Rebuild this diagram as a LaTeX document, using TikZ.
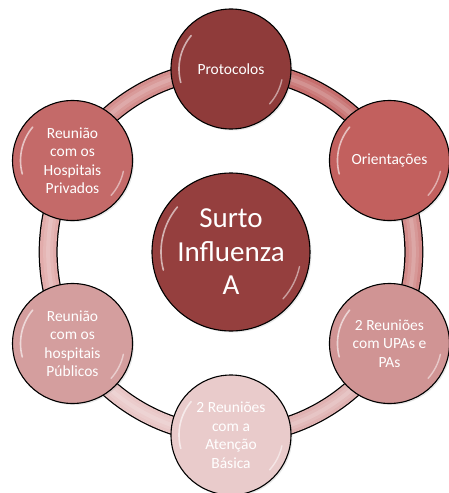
\documentclass[tikz,border=0pt]{standalone}
\usepackage{fontspec}
\setmainfont{Carlito}
\usepackage{tikz}
\usetikzlibrary{backgrounds}
\usetikzlibrary{shadows}

\definecolor{hubred}{HTML}{953F3E}
\definecolor{protred}{HTML}{8F3B3A}
\definecolor{orired}{HTML}{C2605E}
\definecolor{uparose}{HTML}{D09494}
\definecolor{basrose}{HTML}{E9CBCB}
\definecolor{pubrose}{HTML}{D49E9E}
\definecolor{privred}{HTML}{C46A69}
\definecolor{ringa}{HTML}{C66E6D}
\definecolor{ringb}{HTML}{D28A89}
\definecolor{ringc}{HTML}{E0B2B2}
\definecolor{ringd}{HTML}{E9C6C6}
\definecolor{ringe}{HTML}{E2ACAB}
\definecolor{ringf}{HTML}{D48E8D}

\tikzset{
	bubble/.style={circle, draw=black, line width=1.1pt, fill=#1, text=white, align=center,
		inner sep=0pt, minimum size=120pt, font=\fontsize{15.5}{18.5}\selectfont,
		drop shadow={opacity=.18, shadow xshift=1.5pt, shadow yshift=-1.5pt}},
	hub/.style={bubble=#1, minimum size=158pt, font=\fontsize{29}{33.5}\selectfont},
	gloss/.style={path picture={
		\draw[white, opacity=.6, line width=1.6pt, line cap=round]
			(path picture bounding box.center) ++(140:#1) arc (140:195:#1);
		\draw[white, opacity=.5, line width=1.4pt, line cap=round]
			(path picture bounding box.center) ++(-12:#1) arc (-12:-42:#1);
	}},
	tube/.style={line width=19pt, draw=black,
		postaction={draw=#1, line width=16.5pt},
		postaction={draw=white, opacity=.12, line width=10pt},
		postaction={draw=white, opacity=.15, line width=4pt}},
}

\begin{document}
\begin{tikzpicture}
	\useasboundingbox (-231pt,-241pt) rectangle (217pt,252pt);
	% centre and the six outer bubbles
	\node[hub=hubred, gloss=70pt] (surto) at (0,0) {Surto\\Influenza\\A};
	\node[bubble=protred, gloss=52pt] (prot) at (90:183pt) {Protocolos};
	\node[bubble=orired, gloss=52pt] (ori) at (30:183pt) {Orientações};
	\node[bubble=uparose, gloss=52pt] (upa) at (-30:183pt) {2 Reuniões\\com UPAs e\\PAs};
	\node[bubble=basrose, gloss=52pt] (bas) at (-90:183pt) {2 Reuniões\\com a\\Atenção\\Básica};
	\node[bubble=pubrose, gloss=52pt] (pub) at (-150:183pt) {Reunião\\com os\\hospitais\\Públicos};
	\node[bubble=privred, gloss=52pt] (priv) at (150:183pt) {Reunião\\com os\\Hospitais\\Privados};
	% ring
	\begin{scope}[on background layer]
		\foreach \a/\b/\c in {prot/ori/ringa, ori/upa/ringb, upa/bas/ringc, bas/pub/ringd, pub/priv/ringe, priv/prot/ringf}
			\draw[tube=\c] (\a.center) to[bend left=30, looseness=.91] (\b.center);
	\end{scope}
\end{tikzpicture}
\end{document}
